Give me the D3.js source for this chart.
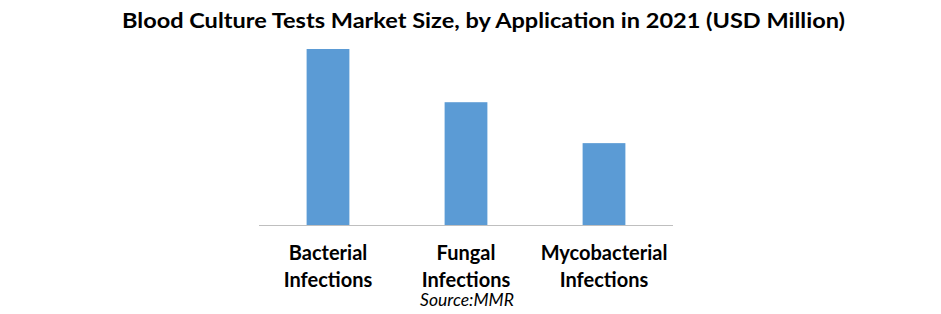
<!DOCTYPE html>
<html>
<head>
<meta charset="utf-8">
<script src="https://cdn.jsdelivr.net/npm/d3@7"></script>
<style>
  body { margin: 0; background: #fff; }
  text { font-family: Lato, "Open Sans", sans-serif; fill: #000; }
</style>
</head>
<body>
<div id="chart"></div>
<script>
const categories = [["Bacterial", "Infections"], ["Fungal", "Infections"], ["Mycobacterial", "Infections"]];
const values = [430, 300, 200];
const title = "Blood Culture Tests Market Size, by Application in 2021 (USD Million)";
const source = "Source:MMR";

const width = 941, height = 314;
const svg = d3.select("#chart").append("svg")
  .attr("width", width)
  .attr("height", height);

const x = d3.scaleBand()
  .domain(d3.range(categories.length))
  .range([259, 673])
  .paddingInner(0.69)
  .paddingOuter(0.345);

const y = d3.scaleLinear()
  .domain([0, 430])
  .range([225, 49]);

// title
svg.append("text")
  .attr("x", 483.5)
  .attr("y", 28)
  .attr("text-anchor", "middle")
  .style("font-weight", "bold")
  .style("font-size", "21px")
  .attr("textLength", 723)
  .attr("lengthAdjust", "spacingAndGlyphs")
  .text(title);

// bars
svg.selectAll("rect.bar")
  .data(values)
  .enter()
  .append("rect")
  .attr("class", "bar")
  .attr("x", (d, i) => x(i))
  .attr("y", d => y(d))
  .attr("width", x.bandwidth())
  .attr("height", d => y(0) - y(d))
  .style("fill", "#5b9bd5");

// baseline
svg.append("line")
  .attr("x1", 259).attr("x2", 673)
  .attr("y1", y(0) + 0.5).attr("y2", y(0) + 0.5)
  .style("stroke", "#bfbfbf")
  .style("stroke-width", 1);

// category labels
const labels = svg.selectAll("text.cat")
  .data(categories)
  .enter()
  .append("text")
  .attr("class", "cat")
  .attr("text-anchor", "middle")
  .style("font-weight", "bold")
  .style("font-size", "20px");

labels.selectAll("tspan")
  .data((d, i) => d.map(t => ({t, i})))
  .enter()
  .append("tspan")
  .attr("x", d => x(d.i) + x.bandwidth() / 2)
  .attr("y", (d, j) => 260 + j * 27)
  .text(d => d.t);

svg.append("text")
  .attr("x", 467)
  .attr("y", 306)
  .attr("text-anchor", "middle")
  .style("font-style", "italic")
  .style("font-size", "17.5px")
  .text(source);
</script>
</body>
</html>
